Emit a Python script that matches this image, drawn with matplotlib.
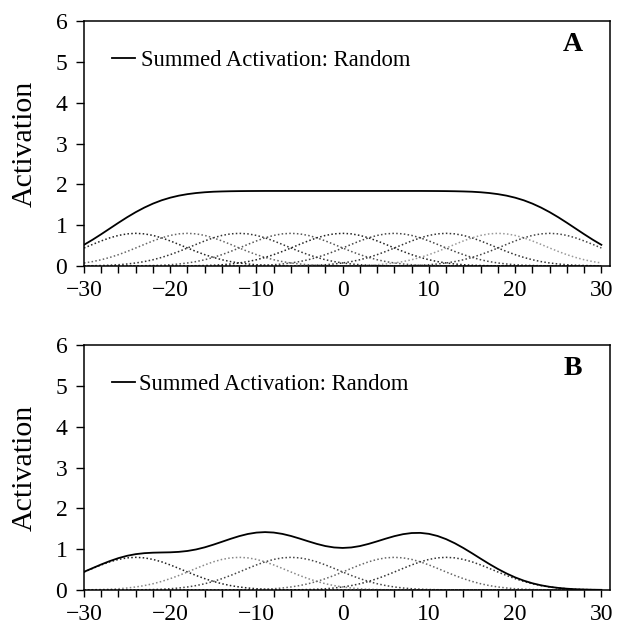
import matplotlib
matplotlib.use("Agg")
import matplotlib.pyplot as plt
import numpy as np

# ---- data ----
# tuning-curve profile: activation vs. |distance from preferred value| (0..30)
profile = [0.800, 0.787, 0.749, 0.690, 0.614, 0.529, 0.441, 0.356, 0.278, 0.210,
           0.153, 0.108, 0.074, 0.049, 0.031, 0.019, 0.012, 0.007, 0.004, 0.002,
           0.001, 0.0, 0.0, 0.0, 0.0, 0.0, 0.0, 0.0, 0.0, 0.0, 0.0]
centers_A = [-24, -18, -12, -6, 0, 6, 12, 18, 24]
shade_A = ['#222222', '#666666', '#333333', '#555555', '#222222', '#444444', '#333333', '#999999', '#444444']
centers_B = [-24, -12, -6, 6, 12]
shade_B = ['#222222', '#888888', '#444444', '#666666', '#333333']
x_grid = list(range(-30, 31))
xticks = [-30, -20, -10, 0, 10, 20, 30]
yticks = [0, 1, 2, 3, 4, 5, 6]
legend_label = "Summed Activation: Random"
panel_letters = ["A", "B"]

plt.rcParams['font.family'] = ['Liberation Serif', 'DejaVu Serif']

fig = plt.figure(figsize=(6.23, 6.24), dpi=100)
axA = fig.add_axes([84/623, 1-266/624, 526/623, 245/624])
axB = fig.add_axes([84/623, 1-590/624, 526/623, 245/624])


def prof(d):
    d = abs(d)
    return profile[d] if d < len(profile) else 0.0


def draw(ax, centers, shades, letter, pad):
    for c, col in zip(centers, shades):
        xs = [x for x in x_grid]
        ys = [prof(x - c) for x in xs]
        ax.plot(xs, ys, color=col, lw=1.1, ls=(0, (1, 1.5)))
    total = [sum(prof(x - c) for c in centers) for x in x_grid]
    ax.plot(x_grid, total, color='black', lw=1.3, label=legend_label)
    ax.set_xlim(-30, 31)
    ax.set_ylim(0, 6)
    ax.set_xticks(xticks)
    ax.set_xticks(list(range(-30, 31, 2)), minor=True)
    ax.set_yticks(yticks)
    ax.set_xticklabels([str(t).replace('-', '\u2212') for t in xticks])
    ax.tick_params(axis='x', which='both', direction='out', length=5, width=1, labelsize=17, pad=5)
    ax.tick_params(axis='y', direction='out', length=6, width=1, labelsize=17, pad=6)
    for s in ax.spines.values():
        s.set_linewidth(1.1)
    ax.set_ylabel("Activation", fontsize=21.5)
    ax.yaxis.set_label_coords(-0.088, 0.5)
    ax.legend(loc='center left', bbox_to_anchor=(0.053, 0.84), frameon=False,
              fontsize=16.3, handlelength=1.0, handletextpad=pad, borderpad=0, borderaxespad=0)
    ax.text(0.93, 0.905, letter, transform=ax.transAxes, fontsize=20, fontweight='bold',
            ha='center', va='center')


draw(axA, centers_A, shade_A, panel_letters[0], 0.3)
draw(axB, centers_B, shade_B, panel_letters[1], 0.2)

fig.savefig("out.png", dpi=100)
